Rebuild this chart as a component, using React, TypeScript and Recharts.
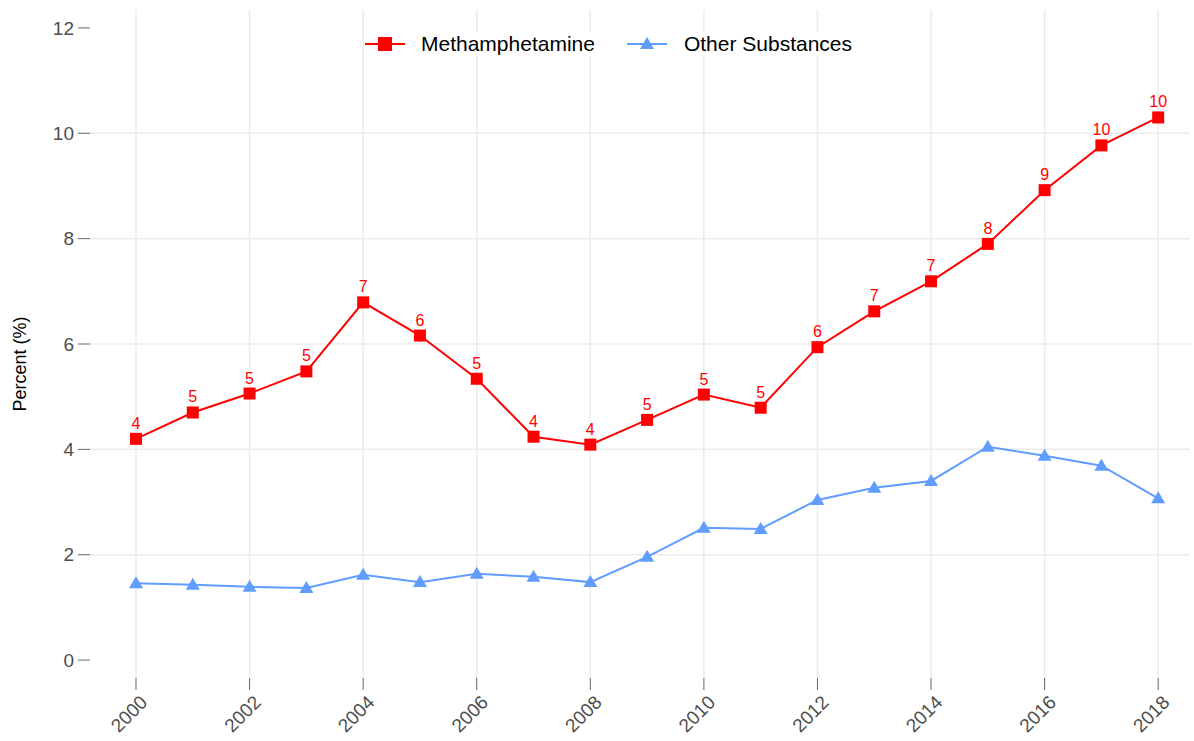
import React from 'react';
import { LineChart, Line, XAxis, YAxis, CartesianGrid, LabelList } from 'recharts';

const years = [2000, 2001, 2002, 2003, 2004, 2005, 2006, 2007, 2008, 2009, 2010, 2011, 2012, 2013, 2014, 2015, 2016, 2017, 2018];
const meth = [4.2, 4.7, 5.06, 5.48, 6.79, 6.16, 5.34, 4.24, 4.09, 4.56, 5.04, 4.79, 5.94, 6.62, 7.19, 7.9, 8.92, 9.77, 10.3];
const other = [1.46, 1.43, 1.39, 1.37, 1.62, 1.48, 1.64, 1.58, 1.48, 1.96, 2.51, 2.49, 3.04, 3.27, 3.4, 4.05, 3.88, 3.69, 3.07];
const xTicks = [2000, 2002, 2004, 2006, 2008, 2010, 2012, 2014, 2016, 2018];
const yTicks = [0, 2, 4, 6, 8, 10, 12];
const gridY = [2, 4, 6, 8, 10];

const RED = '#FF0000';
const BLUE = '#619CFF';
const FONT = "Arial, 'Liberation Sans', sans-serif";

const data = years.map((y, i) => ({ year: y, meth: meth[i], other: other[i] }));

const Square = (props: any) => {
  const { cx, cy } = props;
  if (cx == null || cy == null) return null;
  return <rect x={cx - 6} y={cy - 6} width={12} height={12} fill={RED} />;
};

const Triangle = (props: any) => {
  const { cx, cy } = props;
  if (cx == null || cy == null) return null;
  return <path d={`M${cx},${cy - 7} L${cx + 7},${cy + 5} L${cx - 7},${cy + 5} Z`} fill={BLUE} />;
};

const XTick = (props: any) => {
  const { x, y, payload } = props;
  return (
    <text x={x + 3} y={y + 2} transform={`rotate(-45, ${x + 3}, ${y + 2})`} textAnchor="end" dominantBaseline="hanging"
      fill="#4d4d4d" fontSize={19} fontFamily={FONT}>
      {payload.value}
    </text>
  );
};

export default function App() {
  return (
    <div style={{ position: 'relative', width: 1194, height: 741, fontFamily: FONT }}>
      <style>{`body{margin:0}`}</style>
      <LineChart width={1194} height={741} data={data} margin={{ top: 10, right: 4, left: 0, bottom: 0 }}>
        <CartesianGrid stroke="#ebebeb" strokeWidth={1.5} horizontalValues={gridY} verticalValues={xTicks} />
        <XAxis dataKey="year" type="number" domain={[1999.19, 2018.56]} ticks={xTicks} interval={0}
          axisLine={false} tickSize={12} tickLine={{ stroke: '#666' }} tick={<XTick />} height={63} allowDataOverflow />
        <YAxis type="number" domain={[-0.34, 12.34]} ticks={yTicks} interval={0} width={90}
          axisLine={false} tickSize={12} tickMargin={4} tickLine={{ stroke: '#666' }}
          tick={{ fill: '#4d4d4d', fontSize: 19, fontFamily: FONT }} allowDataOverflow
          label={{ value: 'Percent (%)', angle: -90, position: 'insideLeft', offset: 20, dy: 20, textAnchor: 'middle', fill: '#000', fontSize: 18, fontFamily: FONT }} />
        <Line dataKey="other" stroke={BLUE} strokeWidth={2} dot={<Triangle />} activeDot={false} isAnimationActive={false} />
        <Line dataKey="meth" stroke={RED} strokeWidth={2} dot={<Square />} activeDot={false} isAnimationActive={false}>
          <LabelList dataKey="meth" position="top" offset={10} fill={RED} fontSize={16} fontFamily={FONT} formatter={(v: any) => Math.round(v)} />
        </Line>
      </LineChart>
      <div style={{ position: 'absolute', top: 32, left: 365, display: 'flex', alignItems: 'center', fontSize: 21, color: '#000', background: '#fff' }}>
        <svg width={40} height={24}>
          <line x1={0} y1={12} x2={40} y2={12} stroke={RED} strokeWidth={2} />
          <rect x={13} y={5} width={14} height={14} fill={RED} />
        </svg>
        <span style={{ marginLeft: 16 }}>Methamphetamine</span>
        <svg width={40} height={24} style={{ marginLeft: 32 }}>
          <line x1={0} y1={12} x2={40} y2={12} stroke={BLUE} strokeWidth={2} />
          <path d="M20,5 L27,17 L13,17 Z" fill={BLUE} />
        </svg>
        <span style={{ marginLeft: 17 }}>Other Substances</span>
      </div>
    </div>
  );
}
